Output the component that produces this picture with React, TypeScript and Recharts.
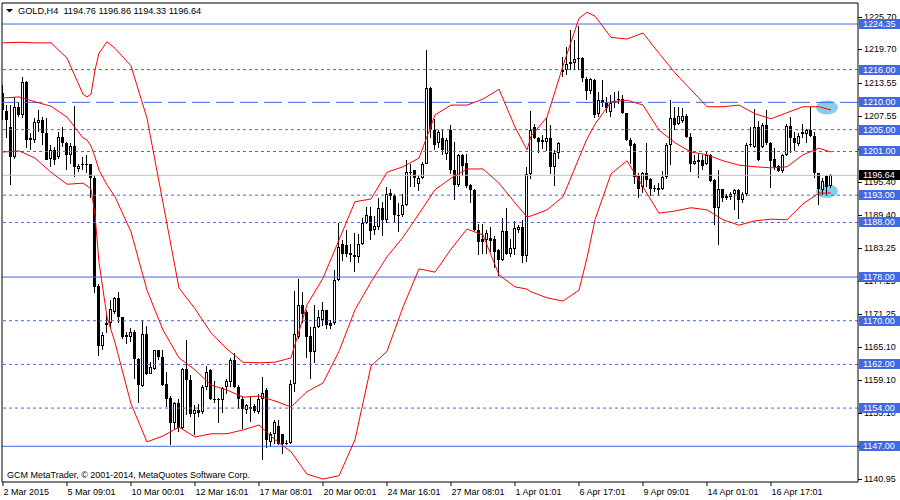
import React from 'react';
import { ComposedChart, Bar, Line, XAxis, YAxis, ReferenceLine, ReferenceDot } from 'recharts';

// ---- candle data (H4, GOLD) ----
const opens = [
  1211.7, 1208.5, 1205.5, 1200.0, 1209.2, 1207.7, 1213.8, 1203.4, 1203.1, 1206.3,
  1206.8, 1204.3, 1199.7, 1201.3, 1200.0, 1203.7, 1202.5, 1200.3, 1202.0, 1197.8,
  1198.7, 1198.7, 1198.7, 1196.2, 1176.3, 1165.3, 1169.6, 1169.5, 1171.6, 1174.1,
  1170.6, 1167.3, 1167.0, 1168.0, 1162.9, 1158.0, 1167.5, 1160.3, 1161.2, 1164.6,
  1163.3, 1158.4, 1155.9, 1151.3, 1154.9, 1150.4, 1161.1, 1159.2, 1152.9, 1153.6,
  1153.3, 1157.8, 1160.9, 1155.7, 1155.5, 1155.4, 1157.9, 1158.8, 1162.8, 1157.9,
  1155.6, 1153.6, 1154.2, 1154.3, 1153.3, 1155.6, 1157.4, 1147.8, 1149.3, 1150.8,
  1149.2, 1147.6, 1147.6, 1158.4, 1167.0, 1172.8, 1171.6, 1167.2, 1164.3, 1168.8,
  1170.1, 1171.9, 1169.5, 1169.5, 1177.5, 1184.1, 1183.8, 1182.4, 1182.0, 1181.6,
  1184.0, 1187.9, 1189.2, 1186.7, 1187.2, 1190.7, 1188.4, 1193.4, 1192.8, 1189.3,
  1189.3, 1191.2, 1197.1, 1197.6, 1195.0, 1196.1, 1198.8, 1212.7, 1204.9, 1202.5,
  1203.4, 1200.6, 1204.9, 1197.7, 1194.8, 1200.3, 1198.9, 1194.8, 1194.0, 1186.7,
  1184.9, 1184.8, 1185.1, 1184.9, 1182.9, 1181.2, 1186.4, 1182.3, 1183.2, 1186.6,
  1187.2, 1181.8, 1196.8, 1205.4, 1203.4, 1203.1, 1202.8, 1203.4, 1198.2, 1200.8,
  1215.5, 1215.9, 1217.1, 1217.2, 1217.9, 1218.2, 1214.2, 1212.0, 1214.1, 1207.9,
  1210.4, 1209.8, 1208.3, 1209.8, 1210.5, 1210.6, 1208.0, 1203.1, 1202.4, 1196.5,
  1194.5, 1197.0, 1195.9, 1194.4, 1193.9, 1194.2, 1196.4, 1202.2, 1207.1, 1206.0,
  1206.5, 1207.5, 1203.7, 1198.8, 1199.4, 1199.4, 1198.8, 1200.3, 1195.8, 1190.6,
  1194.1, 1192.8, 1192.7, 1193.2, 1193.9, 1192.2, 1193.2, 1202.2, 1201.8, 1205.4,
  1201.8, 1205.8, 1202.5, 1199.7, 1198.3, 1197.5, 1200.3, 1205.7, 1203.4, 1202.4,
  1204.2, 1204.2, 1204.9, 1203.8, 1197.0, 1193.9, 1196.5, 1194.76,
];
const highs = [
  1213.2, 1209.6, 1209.5, 1211.0, 1210.1, 1214.7, 1213.9, 1204.3, 1207.1, 1208.6,
  1207.4, 1207.1, 1202.2, 1201.9, 1204.6, 1205.4, 1202.8, 1202.5, 1209.4, 1198.8,
  1199.9, 1200.3, 1198.8, 1196.5, 1176.8, 1168.0, 1171.0, 1173.8, 1174.4, 1175.3,
  1170.7, 1168.0, 1168.7, 1168.3, 1163.1, 1170.2, 1169.0, 1162.5, 1164.7, 1164.7,
  1164.7, 1160.6, 1156.2, 1155.1, 1155.7, 1161.4, 1166.4, 1160.0, 1154.5, 1154.8,
  1158.2, 1161.7, 1161.2, 1159.0, 1155.8, 1157.9, 1159.4, 1163.1, 1164.0, 1158.2,
  1156.3, 1154.8, 1156.3, 1154.8, 1156.5, 1159.7, 1157.6, 1149.6, 1151.8, 1151.8,
  1149.3, 1148.1, 1159.1, 1175.5, 1177.6, 1175.3, 1171.9, 1168.9, 1172.8, 1172.0,
  1173.5, 1172.0, 1170.1, 1179.3, 1187.9, 1184.8, 1186.6, 1184.1, 1186.0, 1185.9,
  1188.9, 1190.9, 1190.9, 1189.2, 1192.4, 1191.8, 1194.5, 1194.2, 1193.2, 1191.5,
  1193.3, 1199.4, 1198.8, 1197.7, 1196.7, 1199.1, 1219.6, 1212.9, 1206.9, 1204.9,
  1204.9, 1203.4, 1205.8, 1202.8, 1200.5, 1200.6, 1200.6, 1195.1, 1194.2, 1187.7,
  1187.8, 1186.6, 1187.1, 1185.5, 1183.2, 1188.9, 1190.6, 1184.9, 1188.3, 1187.5,
  1188.4, 1198.2, 1208.5, 1206.1, 1203.7, 1204.0, 1207.2, 1205.8, 1201.2, 1202.8,
  1218.4, 1220.2, 1223.2, 1221.4, 1224.0, 1218.4, 1214.7, 1214.4, 1214.2, 1211.9,
  1214.1, 1210.9, 1211.3, 1211.9, 1212.1, 1211.3, 1208.1, 1203.4, 1202.6, 1197.0,
  1197.3, 1202.5, 1196.1, 1194.8, 1195.2, 1197.5, 1202.5, 1210.4, 1209.2, 1209.1,
  1208.9, 1207.9, 1204.3, 1200.3, 1200.5, 1200.3, 1200.9, 1200.6, 1195.9, 1197.6,
  1194.2, 1193.3, 1193.6, 1194.2, 1194.2, 1193.6, 1202.5, 1205.4, 1208.7, 1206.5,
  1206.3, 1208.6, 1202.8, 1201.6, 1198.5, 1200.6, 1206.0, 1207.4, 1204.6, 1204.3,
  1206.1, 1205.1, 1209.1, 1204.6, 1197.1, 1196.1, 1196.7, 1196.86,
];
const lows = [
  1206.8, 1203.5, 1194.8, 1199.7, 1207.4, 1207.1, 1201.6, 1201.3, 1202.5, 1204.6,
  1202.2, 1199.4, 1198.1, 1198.5, 1199.7, 1201.9, 1197.6, 1198.7, 1196.4, 1197.3,
  1197.6, 1197.0, 1192.4, 1175.1, 1163.5, 1164.6, 1167.7, 1168.6, 1171.3, 1169.5,
  1166.7, 1165.7, 1166.1, 1159.4, 1155.0, 1157.9, 1160.0, 1160.2, 1160.9, 1162.8,
  1158.0, 1154.2, 1147.2, 1150.2, 1149.6, 1150.2, 1152.7, 1152.4, 1149.0, 1152.4,
  1153.0, 1157.3, 1155.4, 1155.0, 1151.2, 1153.1, 1156.6, 1157.9, 1157.6, 1153.9,
  1150.2, 1153.0, 1151.5, 1153.1, 1153.0, 1144.4, 1146.6, 1146.9, 1147.5, 1147.2,
  1145.6, 1147.2, 1147.4, 1157.0, 1166.7, 1169.6, 1163.1, 1159.4, 1162.3, 1168.6,
  1169.0, 1168.4, 1168.4, 1169.2, 1177.3, 1181.0, 1181.6, 1180.8, 1179.0, 1180.6,
  1183.8, 1187.8, 1184.8, 1185.7, 1186.7, 1185.5, 1187.9, 1192.1, 1188.1, 1186.3,
  1189.0, 1191.0, 1194.5, 1194.5, 1193.8, 1195.9, 1198.7, 1203.5, 1201.3, 1201.7,
  1200.3, 1199.4, 1196.9, 1192.2, 1194.5, 1196.5, 1194.4, 1191.6, 1186.5, 1182.0,
  1182.3, 1182.3, 1182.6, 1179.6, 1178.2, 1181.0, 1182.0, 1181.6, 1182.0, 1186.1,
  1180.6, 1180.8, 1196.0, 1203.2, 1200.8, 1201.4, 1201.0, 1196.8, 1194.7, 1199.7,
  1214.7, 1215.0, 1216.0, 1215.9, 1215.9, 1213.8, 1210.4, 1211.6, 1207.2, 1207.4,
  1209.2, 1208.0, 1207.4, 1208.9, 1209.7, 1207.9, 1203.0, 1198.8, 1195.1, 1192.4,
  1193.4, 1194.5, 1192.8, 1193.6, 1192.8, 1193.9, 1195.9, 1198.5, 1204.9, 1205.8,
  1206.3, 1203.4, 1197.3, 1198.5, 1196.1, 1197.6, 1198.5, 1195.5, 1187.5, 1183.8,
  1191.8, 1192.1, 1192.1, 1190.3, 1188.7, 1191.5, 1192.8, 1201.9, 1201.6, 1199.3,
  1201.6, 1202.2, 1194.4, 1197.7, 1197.3, 1197.0, 1200.2, 1200.8, 1201.0, 1202.0,
  1203.4, 1202.6, 1203.6, 1196.1, 1191.2, 1193.0, 1193.0, 1194.33,
];
const closes = [
  1208.6, 1206.8, 1200.0, 1209.2, 1207.7, 1213.8, 1203.1, 1203.1, 1206.4, 1206.8,
  1204.3, 1199.5, 1201.3, 1199.5, 1203.7, 1202.5, 1200.3, 1202.0, 1198.1, 1198.3,
  1198.7, 1198.6, 1196.2, 1176.2, 1165.3, 1167.3, 1169.2, 1172.1, 1174.1, 1170.6,
  1167.0, 1167.0, 1168.0, 1162.9, 1158.2, 1167.5, 1160.3, 1161.6, 1164.6, 1163.3,
  1158.2, 1155.7, 1151.3, 1154.9, 1150.4, 1161.1, 1159.2, 1152.9, 1153.6, 1153.1,
  1157.8, 1160.6, 1155.7, 1155.5, 1155.6, 1157.6, 1159.0, 1162.8, 1157.9, 1155.6,
  1153.9, 1154.5, 1153.9, 1153.5, 1155.6, 1156.7, 1148.1, 1149.3, 1151.5, 1147.5,
  1147.5, 1147.6, 1158.4, 1167.5, 1172.8, 1171.3, 1167.0, 1164.3, 1168.9, 1170.7,
  1171.9, 1169.2, 1169.0, 1177.5, 1183.5, 1182.2, 1182.2, 1182.0, 1181.6, 1184.0,
  1187.9, 1189.3, 1186.5, 1187.3, 1190.7, 1188.4, 1193.2, 1192.8, 1189.3, 1189.4,
  1191.2, 1197.3, 1197.3, 1196.1, 1196.2, 1198.7, 1212.7, 1204.9, 1202.2, 1204.6,
  1201.3, 1203.1, 1197.7, 1194.8, 1200.3, 1198.3, 1194.7, 1194.0, 1186.7, 1184.4,
  1184.4, 1186.1, 1184.6, 1182.6, 1181.2, 1186.4, 1182.3, 1183.4, 1186.9, 1187.1,
  1181.8, 1196.8, 1204.9, 1203.4, 1202.8, 1202.8, 1203.4, 1198.2, 1200.8, 1202.6,
  1216.0, 1217.1, 1217.4, 1217.9, 1218.2, 1214.4, 1212.1, 1214.2, 1207.7, 1210.4,
  1209.9, 1208.9, 1209.8, 1210.3, 1210.7, 1208.0, 1203.1, 1202.0, 1196.4, 1194.2,
  1197.0, 1195.8, 1194.2, 1194.1, 1194.4, 1196.4, 1202.2, 1207.1, 1205.8, 1207.5,
  1207.5, 1203.7, 1198.8, 1199.3, 1199.1, 1198.3, 1200.3, 1195.6, 1190.6, 1194.1,
  1192.4, 1192.4, 1193.2, 1193.9, 1192.2, 1193.2, 1202.2, 1202.4, 1205.4, 1199.4,
  1205.8, 1202.5, 1199.3, 1198.1, 1197.5, 1200.3, 1205.7, 1203.4, 1202.5, 1203.8,
  1204.5, 1204.9, 1203.8, 1197.0, 1194.2, 1195.6, 1194.5, 1196.64,
];

// ---- Bollinger bands (at these candle indices) ----
const bandIdx = [
  0, 4, 8, 12, 16, 20, 21, 22, 23, 24, 26, 28, 32, 36, 40, 44, 48, 52, 56, 60,
  64, 68, 72, 76, 80, 84, 88, 92, 96, 100, 104, 108, 112, 116, 120, 124, 128, 131, 132, 136,
  140, 144, 146, 148, 152, 156, 160, 164, 168, 172, 176, 180, 184, 188, 192, 196, 200, 204, 207,
];
const upperBand = [
  1220.9, 1221.0, 1220.9, 1220.9, 1218.1, 1211.5, 1211.0, 1211.5, 1215.9, 1219.0,
  1221.1, 1219.9, 1216.7, 1207.1, 1191.6, 1176.0, 1172.2, 1167.8, 1164.8, 1162.4,
  1162.3, 1162.4, 1163.2, 1172.9, 1177.8, 1184.8, 1191.8, 1192.3, 1197.2, 1198.2,
  1199.8, 1207.7, 1209.5, 1209.5, 1210.6, 1212.4, 1205.5, 1201.3, 1203.8, 1207.3,
  1216.7, 1225.4, 1226.5, 1225.8, 1221.9, 1221.6, 1222.7, 1219.0, 1215.4, 1212.3,
  1209.2, 1209.2, 1209.5, 1207.9, 1207.0, 1208.1, 1209.2, 1209.2, 1208.6,
];
const middleBand = [
  1210.8, 1211.0, 1210.1, 1209.3, 1207.3, 1203.5, 1203.1, 1202.0, 1200.0, 1197.6,
  1194.9, 1192.7, 1186.3, 1175.6, 1168.3, 1163.2, 1161.0, 1158.2, 1157.3, 1156.0,
  1156.2, 1155.3, 1154.2, 1157.0, 1158.6, 1164.4, 1172.0, 1177.1, 1181.7, 1185.3,
  1189.6, 1194.0, 1196.1, 1197.8, 1197.8, 1195.2, 1191.6, 1189.0, 1189.2, 1190.3,
  1192.7, 1199.8, 1203.3, 1206.0, 1210.1, 1210.4, 1209.5, 1204.9, 1202.6, 1200.9,
  1200.4, 1199.3, 1198.5, 1198.2, 1198.0, 1198.2, 1200.4, 1201.6, 1200.9,
];
const lowerBand = [
  1200.9, 1201.1, 1199.8, 1197.2, 1195.0, 1195.2, 1194.7, 1194.1, 1189.4, 1180.7,
  1170.7, 1166.0, 1154.8, 1147.8, 1148.9, 1150.5, 1148.7, 1149.3, 1149.3, 1150.0,
  1150.9, 1148.2, 1146.0, 1141.9, 1141.0, 1141.6, 1148.2, 1161.7, 1164.4, 1172.5,
  1179.5, 1178.9, 1183.1, 1186.8, 1185.7, 1178.4, 1176.2, 1175.8, 1175.3, 1174.2,
  1173.6, 1175.6, 1181.5, 1188.5, 1196.9, 1199.3, 1194.5, 1189.7, 1190.1, 1190.7,
  1190.3, 1188.5, 1187.5, 1188.3, 1188.6, 1188.5, 1191.4, 1193.4, 1193.4,
];

// ---- axes ----
const dateTickIdx = [0, 16, 32, 48, 64, 80, 96, 112, 128, 144, 160, 176, 192];
const dateTickLabels = [
  '2 Mar 2015', '5 Mar 09:01', '10 Mar 00:01', '12 Mar 16:01', '17 Mar 08:01',
  '20 Mar 00:01', '24 Mar 16:01', '27 Mar 08:01', '1 Apr 01:01', '6 Apr 17:01',
  '9 Apr 09:01', '14 Apr 01:01', '16 Apr 17:01',
];
const priceTicks = [
  1225.70, 1219.70, 1213.55, 1207.55, 1201.50, 1195.40, 1189.40, 1183.25,
  1177.25, 1171.25, 1165.10, 1159.10, 1153.10, 1147.05, 1140.95,
];

// ---- horizontal levels & markers ----
const solidLevels = [1224.35, 1178.0, 1147.0];
const dottedLevels = [1216.0, 1205.0, 1201.0, 1193.0, 1188.0, 1170.0, 1162.0, 1154.0];
const dashedLevels = [1210.0];
const lastPrice = 1196.64;
const markerIdx = [206, 206];
const markerPrice = [1209.06, 1193.76];

const titleText = 'GOLD,H4  1194.76 1196.86 1194.33 1196.64';
const copyrightText = 'GCM MetaTrader, \u00A9 2001-2014, MetaQuotes Software Corp.';

const BLUE = '#4169E1';
const FONT = '"Liberation Sans", Arial, sans-serif';

const levelTags = [...solidLevels, ...dashedLevels, ...dottedLevels];
const axisTicks = [...priceTicks, ...levelTags, lastPrice];

const data = opens.map((o, i) => {
  const k = bandIdx.indexOf(i);
  return {
    idx: i,
    o,
    h: highs[i],
    l: lows[i],
    c: closes[i],
    range: [lows[i], highs[i]],
    upper: k >= 0 ? upperBand[k] : null,
    middle: k >= 0 ? middleBand[k] : null,
    lower: k >= 0 ? lowerBand[k] : null,
  };
});

const Candle = (props: any) => {
  const { x, y, width, height, payload } = props;
  if (!payload || x == null || y == null) return null;
  const { o, h, l, c } = payload;
  const y0 = Math.min(y, y + height);
  const y1 = Math.max(y, y + height);
  const span = h - l;
  const py = (p: number) => (span > 0 ? y0 + ((h - p) / span) * (y1 - y0) : y0);
  const cx = Math.floor(x + width / 2);
  const top = Math.round(py(Math.max(o, c)));
  const bot = Math.round(py(Math.min(o, c)));
  const bh = Math.max(1, bot - top);
  const wt = Math.round(y0);
  const wb = Math.round(y1);
  const up = c > o;
  return (
    <g>
      <rect x={cx} y={wt} width={1} height={Math.max(1, wb - wt)} fill="#000" />
      <rect x={cx - 1} y={top} width={3} height={bh} fill="#000" />
      {up && bh > 2 ? <rect x={cx} y={top + 1} width={1} height={bh - 2} fill="#fff" /> : null}
    </g>
  );
};

const DateTick = (props: any) => {
  const { x, y, payload } = props;
  const k = dateTickIdx.indexOf(payload.value);
  return (
    <text x={x + 0.5} y={y + 7} fontSize={9} fontFamily={FONT} fill="#000" textAnchor="start">
      {k >= 0 ? dateTickLabels[k] : ''}
    </text>
  );
};

// Right axis tick: plain price labels, and tags for the horizontal levels (drawn last -> on top)
const PriceTick = (props: any) => {
  const { x, y, payload } = props;
  const v = Number(payload.value);
  const yy = Math.round(y);
  if (v === lastPrice || levelTags.indexOf(v) >= 0) {
    const bg = v === lastPrice ? '#000' : BLUE;
    return (
      <g>
        <rect x={x - 5} y={yy - 5} width={41} height={10} fill={bg} />
        <text x={x - 1} y={yy + 3.3} fontSize={9} fontFamily={FONT} fill="#fff" textAnchor="start">
          {v.toFixed(2)}
        </text>
      </g>
    );
  }
  return (
    <g>
      <line x1={x - 6} x2={x - 2} y1={yy + 0.5} y2={yy + 0.5} stroke="#000" strokeWidth={1} />
      <text x={x} y={yy + 3.3} fontSize={9} fontFamily={FONT} fill="#000" textAnchor="start">
        {v.toFixed(2)}
      </text>
    </g>
  );
};

const Blob = (props: any) => {
  const { cx, cy } = props;
  if (cx == null || cy == null) return null;
  return <ellipse cx={cx} cy={cy} rx={11} ry={7} fill="#87CEEB" />;
};

export default function App() {
  return (
    <div style={{ position: 'absolute', left: 0, top: 0, width: 900, height: 500, background: '#fff' }}>
      <ComposedChart
        width={900}
        height={500}
        data={data}
        margin={{ top: 2, right: 0, bottom: 0, left: 1 }}
      >
        <XAxis
          dataKey="idx"
          type="number"
          domain={[-0.25, 213.75]}
          allowDataOverflow
          ticks={dateTickIdx}
          interval={0}
          tick={<DateTick />}
          tickSize={4}
          tickLine={{ stroke: '#000' }}
          axisLine={{ stroke: '#000' }}
          height={18}
        />
        <XAxis
          xAxisId="top"
          orientation="top"
          type="number"
          domain={[0, 1]}
          tick={false}
          tickLine={false}
          axisLine={{ stroke: '#000' }}
          height={1}
        />
        <YAxis
          orientation="right"
          type="number"
          domain={[1140.46, 1228.2]}
          allowDataOverflow
          ticks={axisTicks}
          interval={0}
          tick={<PriceTick />}
          tickSize={4}
          tickMargin={2}
          tickLine={false}
          axisLine={{ stroke: '#000' }}
          width={42}
        />
        <YAxis
          yAxisId="left"
          orientation="left"
          type="number"
          domain={[0, 1]}
          tick={false}
          tickLine={false}
          axisLine={{ stroke: '#000' }}
          width={1}
        />
        {markerIdx.map((mi, k) => (
          <ReferenceDot key={'m' + k} x={mi} y={markerPrice[k]} r={8} shape={<Blob />} zIndex={150} />
        ))}
        {dottedLevels.map((v) => (
          <ReferenceLine key={'d' + v} y={v} stroke={BLUE} strokeWidth={1} strokeDasharray="3 3" />
        ))}
        {dashedLevels.map((v) => (
          <ReferenceLine key={'l' + v} y={v} stroke={BLUE} strokeWidth={1} strokeDasharray="18 6" />
        ))}
        {solidLevels.map((v) => (
          <ReferenceLine key={'s' + v} y={v} stroke={BLUE} strokeWidth={1} />
        ))}
        <ReferenceLine y={lastPrice} stroke="#C0C0C0" strokeWidth={1} />
        <Bar
          dataKey="range"
          barSize={3}
          isAnimationActive={false}
          shape={(p: any) => <Candle {...p} />}
        />
        <Line dataKey="upper" type="linear" stroke="#FF0000" strokeWidth={1} dot={false} connectNulls isAnimationActive={false} />
        <Line dataKey="middle" type="linear" stroke="#FF0000" strokeWidth={1} dot={false} connectNulls isAnimationActive={false} />
        <Line dataKey="lower" type="linear" stroke="#FF0000" strokeWidth={1} dot={false} connectNulls isAnimationActive={false} />
      </ComposedChart>
      <svg
        width={900}
        height={500}
        style={{ position: 'absolute', left: 0, top: 0, pointerEvents: 'none' }}
      >
        <polygon points="6,9 13,9 9.5,12.5" fill="#000" />
        <text x={18} y={14} fontSize={9.2} fontFamily={FONT} fill="#000" style={{ whiteSpace: 'pre' }}>
          {titleText}
        </text>
        <text x={7} y={478} fontSize={9} fontFamily={FONT} fill="#000">
          {copyrightText}
        </text>
      </svg>
    </div>
  );
}
